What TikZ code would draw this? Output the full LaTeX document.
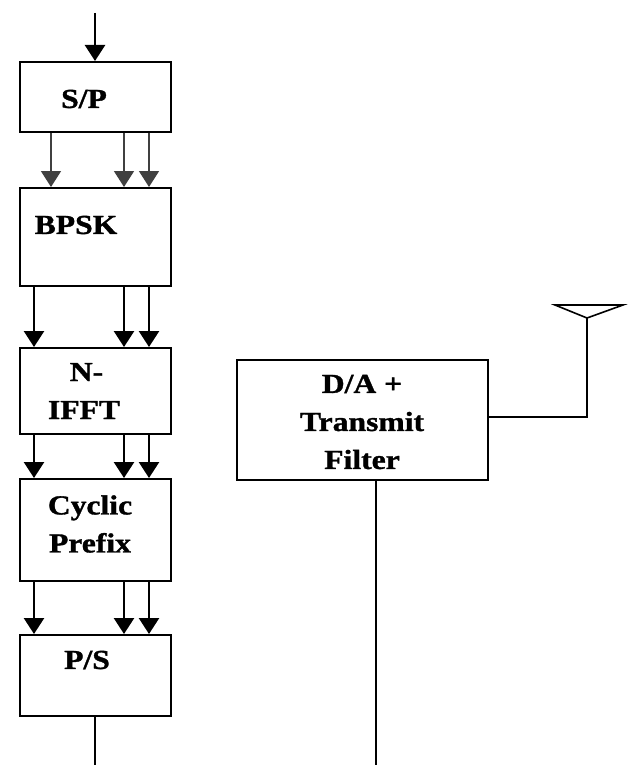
\documentclass[tikz,border=0pt]{standalone}
\usepackage{fontspec}
\setmainfont{Liberation Serif}[FakeStretch=1.15,BoldFeatures={FakeBold=1.2}]
\usetikzlibrary{arrows.meta}
\begin{document}
\begin{tikzpicture}[x=1pt,y=-1pt,
  blk/.style={draw,line width=1.6pt,rectangle,anchor=north west,inner sep=0pt},
  lbl/.style={font=\fontsize{27.5}{38}\selectfont\bfseries,align=center,inner sep=0pt},
  arr/.style={line width=2.6pt,-{Triangle[length=16pt,width=20pt]}},
  thinarr/.style={line width=1.6pt,draw=black!75,-{Triangle[length=16pt,width=20pt]}},
  wire/.style={line width=1.6pt}]
\useasboundingbox (0,0) rectangle (627,765);

% processing chain
\node[blk,minimum width=151pt,minimum height=70pt]  (sp)   at (19,61)  {};
\node[blk,minimum width=151pt,minimum height=98pt]  (bpsk) at (19,187) {};
\node[blk,minimum width=151pt,minimum height=86pt]  (ifft) at (19,347) {};
\node[blk,minimum width=151pt,minimum height=102pt] (cp)   at (19,478) {};
\node[blk,minimum width=151pt,minimum height=81pt]  (ps)   at (19,634) {};
\node[blk,minimum width=251pt,minimum height=120pt] (da)   at (236,359) {};

% labels
\node[lbl] (tsp)   at (84,99)  {S/P};
\node[lbl] (tbpsk) at (76,225) {BPSK};
\node[lbl] (tifft) at (84,391) {\hspace*{5pt}N-\\IFFT};
\node[lbl] (tcp)   at (90,524) {Cyclic\\Prefix};
\node[lbl] (tps)   at (87,660) {P/S};
\node[lbl] (tda)   at (362,422) {D/A +\\Transmit\\Filter};

% column positions of the parallel streams
\coordinate (c0) at (51,0);
\coordinate (c1) at (34,0);
\coordinate (c2) at (124,0);
\coordinate (c3) at (149,0);
\coordinate (in) at (95,13);
\coordinate (psout) at (95,765);
\coordinate (daout) at (376,765);

% input
\draw[arr] (in) -- (sp.north -| in);

% S/P -> BPSK
\foreach \c in {c0,c2,c3}
  \draw[thinarr] (sp.south -| \c) -- (bpsk.north -| \c);
% BPSK -> IFFT -> CP -> P/S
\foreach \c in {c1,c2,c3} {
  \draw[arr] (bpsk.south -| \c) -- (ifft.north -| \c);
  \draw[arr] (ifft.south -| \c) -- (cp.north -| \c);
  \draw[arr] (cp.south -| \c) -- (ps.north -| \c);
}

% outputs
\draw[wire] (ps.south -| psout) -- (psout);
\draw[wire] (da.south -| daout) -- (daout);

% antenna
\coordinate (feed) at (587,417);
\coordinate (apex) at (587,318);
\draw[wire] (da.east |- feed) -- (feed) -- (apex);
\draw[wire,line join=miter] (apex) -- (555,305) -- (623,305) -- cycle;
\end{tikzpicture}
\end{document}
